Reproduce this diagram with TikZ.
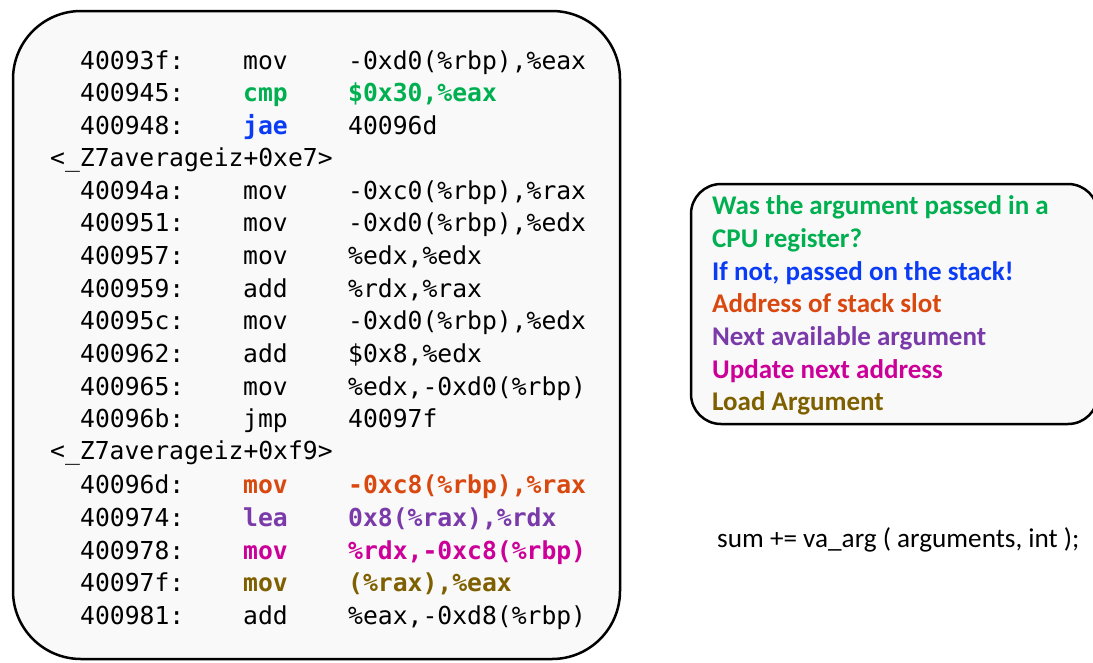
\documentclass[tikz,border=0pt]{standalone}
\usepackage{fontspec}
\setmainfont{Carlito}
\newfontfamily\codefont{DejaVu Sans Mono}
\begin{document}
\begin{tikzpicture}[x=1pt,y=-1pt,
  codebox/.style={draw=black,line width=2.5pt,fill=gray!5,rounded corners=68pt},
  notebox/.style={draw=black,line width=2.5pt,fill=gray!5,rounded corners=30pt},
  code/.style={anchor=base west,inner sep=0pt,font=\codefont\fontsize{24.7}{28}\selectfont},
  hl/.style={code,font=\codefont\bfseries\fontsize{24.7}{28}\selectfont},
  note/.style={anchor=base west,inner sep=0pt,font=\bfseries\fontsize{27}{30}\selectfont},
  plain/.style={anchor=base west,inner sep=0pt,font=\fontsize{27.2}{30}\selectfont}]
\definecolor{cgreen}{HTML}{00B050}
\definecolor{cblue}{HTML}{0A3CF5}
\definecolor{corange}{HTML}{D9480F}
\definecolor{cpurple}{HTML}{7A3AAA}
\definecolor{cmagenta}{HTML}{CC0099}
\definecolor{colive}{HTML}{7F6000}
\useasboundingbox (0,0) rectangle (1093,662);
\fill[white] (0,0) rectangle (1093,662);

% disassembly listing
\draw[codebox] (13,11) rectangle (620,659);
\def\ax{80}\def\mx{243}\def\ox{348}
\node[code] (a1) at (\ax,69) {40093f:};  \node[code] (m1) at (\mx,69) {mov}; \node[code] (o1) at (\ox,69) {-0xd0(\%rbp),\%eax};
\node[code] (a2) at (\ax,101) {400945:}; \node[hl,cgreen] (m2) at (\mx,101) {cmp}; \node[hl,cgreen] (o2) at (\ox,101) {\$0x30,\%eax};
\node[code] (a3) at (\ax,134) {400948:}; \node[hl,cblue] (m3) at (\mx,134) {jae}; \node[code] (o3) at (\ox,134) {40096d};
\node[code] (l1) at (50,166) {<\_Z7averageiz+0xe7>};
\node[code] (a4) at (\ax,199) {40094a:}; \node[code] (m4) at (\mx,199) {mov}; \node[code] (o4) at (\ox,199) {-0xc0(\%rbp),\%rax};
\node[code] (a5) at (\ax,231) {400951:}; \node[code] (m5) at (\mx,231) {mov}; \node[code] (o5) at (\ox,231) {-0xd0(\%rbp),\%edx};
\node[code] (a6) at (\ax,264) {400957:}; \node[code] (m6) at (\mx,264) {mov}; \node[code] (o6) at (\ox,264) {\%edx,\%edx};
\node[code] (a7) at (\ax,297) {400959:}; \node[code] (m7) at (\mx,297) {add}; \node[code] (o7) at (\ox,297) {\%rdx,\%rax};
\node[code] (a8) at (\ax,329) {40095c:}; \node[code] (m8) at (\mx,329) {mov}; \node[code] (o8) at (\ox,329) {-0xd0(\%rbp),\%edx};
\node[code] (a9) at (\ax,362) {400962:}; \node[code] (m9) at (\mx,362) {add}; \node[code] (o9) at (\ox,362) {\$0x8,\%edx};
\node[code] (a10) at (\ax,395) {400965:}; \node[code] (m10) at (\mx,395) {mov}; \node[code] (o10) at (\ox,395) {\%edx,-0xd0(\%rbp)};
\node[code] (a11) at (\ax,427) {40096b:}; \node[code] (m11) at (\mx,427) {jmp}; \node[code] (o11) at (\ox,427) {40097f};
\node[code] (l2) at (50,459) {<\_Z7averageiz+0xf9>};
\node[code] (a12) at (\ax,493) {40096d:}; \node[hl,corange] (m12) at (\mx,493) {mov}; \node[hl,corange] (o12) at (\ox,493) {-0xc8(\%rbp),\%rax};
\node[code] (a13) at (\ax,526) {400974:}; \node[hl,cpurple] (m13) at (\mx,526) {lea}; \node[hl,cpurple] (o13) at (\ox,526) {0x8(\%rax),\%rdx};
\node[code] (a14) at (\ax,559) {400978:}; \node[hl,cmagenta] (m14) at (\mx,559) {mov}; \node[hl,cmagenta] (o14) at (\ox,559) {\%rdx,-0xc8(\%rbp)};
\node[code] (a15) at (\ax,591) {40097f:}; \node[hl,colive] (m15) at (\mx,591) {mov}; \node[hl,colive] (o15) at (\ox,591) {(\%rax),\%eax};
\node[code] (a16) at (\ax,624) {400981:}; \node[code] (m16) at (\mx,624) {add}; \node[code] (o16) at (\ox,624) {\%eax,-0xd8(\%rbp)};

% legend of highlighted steps
\draw[notebox] (691,184) rectangle (1098,424);
\node[note,cgreen] (n1) at (712,214) {Was the argument passed in a};
\node[note,cgreen] (n2) at (712,247) {CPU register?};
\node[note,cblue] (n3) at (712,280) {If not, passed on the stack!};
\node[note,corange] (n4) at (712,312) {Address of stack slot};
\node[note,cpurple] (n5) at (712,345) {Next available argument};
\node[note,cmagenta] (n6) at (712,378) {Update next address};
\node[note,colive] (n7) at (712,410) {Load Argument};

% source line
\node[plain] (src) at (717,547) {sum += va\_arg ( arguments, int );};
\end{tikzpicture}
\end{document}
